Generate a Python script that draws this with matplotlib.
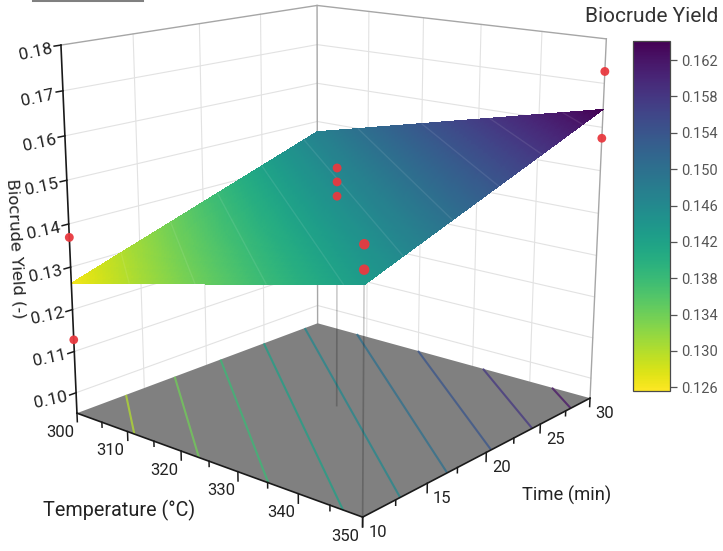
#!/usr/bin/env python3
"""Biocrude yield response surface over temperature and time."""

import matplotlib

matplotlib.use("Agg")
import matplotlib.pyplot as plt
import numpy as np
from matplotlib.cm import ScalarMappable
from matplotlib.colors import Normalize
from matplotlib.lines import Line2D
from mpl_toolkits.mplot3d.art3d import Poly3DCollection

temp_range = [300, 350]
time_range = [10, 30]
yield_range = [0.095, 0.18]
colour_range = [0.1256, 0.1641]

temp_major = [300, 310, 320, 330, 340, 350]
temp_minor = [305, 315, 325, 335, 345]
time_major = [10, 15, 20, 25, 30]
time_minor = [12.5, 17.5, 22.5, 27.5]
yield_ticks = [0.10, 0.11, 0.12, 0.13, 0.14, 0.15, 0.16, 0.17, 0.18]

# surface corners, rows are temperature, columns are time
surface_temp = [300, 350]
surface_time = [10, 30]
surface_yield = [[0.1262, 0.1473], [0.1430, 0.1641]]

contour_levels = [0.130, 0.134, 0.138, 0.142, 0.146, 0.150, 0.154, 0.158, 0.162]
colorbar_ticks = [0.126, 0.130, 0.134, 0.138, 0.142, 0.146, 0.150, 0.154, 0.158, 0.162]

point_temp = [300, 300, 350, 350, 325, 325, 325, 350, 350]
point_time = [10, 10, 30, 30, 20, 20, 20, 10, 10]
point_yield = [0.1369, 0.1128, 0.1727, 0.1575, 0.1517, 0.1485, 0.1452, 0.1510, 0.1460]
stem_temp = [325, 350]
stem_time = [20, 10]
stem_top = [0.1445, 0.1430]

FONT = "Roboto"
plt.rcParams["font.family"] = FONT

WIDTH, HEIGHT = 723, 551
SCALE = 3414.4
SIDE = SCALE * 0.185
LEFT = 337.0 - SCALE * 0.095
BOTTOM = HEIGHT - 229.3 - SCALE * 0.095


def main():
    fig = plt.figure(figsize=(WIDTH / 100, HEIGHT / 100), dpi=100, facecolor="white")
    ax = fig.add_axes(
        [LEFT / WIDTH, BOTTOM / HEIGHT, SIDE / WIDTH, SIDE / HEIGHT],
        projection="3d",
        computed_zorder=False,
    )
    ax.set_xlim(*temp_range)
    ax.set_ylim(*time_range)
    ax.set_zlim(*yield_range)
    ax.set_proj_type("persp", focal_length=0.47967)
    ax.view_init(elev=15.394, azim=-49.853, roll=-0.089)
    ax.set_box_aspect((0.99686, 0.99399, 1))
    ax.set_axis_off()
    ax.patch.set_visible(False)
    M = ax.get_proj()

    def project(x, y, z):
        h = M @ np.array([x, y, z, 1.0])
        return h[0] / h[3], h[1] / h[3], h[3]

    t0, t1 = temp_range
    m0, m1 = time_range
    z0, z1 = yield_range

    # walls
    grid = dict(color="#e2e2e2", lw=0.8, zorder=0.5)
    for z in yield_ticks[:-1]:
        ax.plot([t0, t0], [m0, m1], [z, z], **grid)
        ax.plot([t0, t1], [m1, m1], [z, z], **grid)
    for m in time_major[1:-1]:
        ax.plot([t0, t0], [m, m], [z0, z1], **grid)
    for t in temp_major[1:-1]:
        ax.plot([t, t], [m1, m1], [z0, z1], **grid)

    edge = dict(color="#a6a6a6", lw=1.0, zorder=0.6)
    ax.plot([t0, t0, t1], [m0, m1, m1], [z1, z1, z1], **edge)
    ax.plot([t0, t0], [m1, m1], [z0, z1], **edge)
    ax.plot([t1, t1], [m1, m1], [z0, z1], **edge)

    floor = Poly3DCollection(
        [[(t0, m0, z0), (t1, m0, z0), (t1, m1, z0), (t0, m1, z0)]],
        facecolors="#808080",
        edgecolors="none",
        zorder=1,
    )
    ax.add_collection3d(floor, autolim=False)

    # surface, subdivided only so the colours run smoothly
    u = np.linspace(0, 1, 160)
    T, M_grid = np.meshgrid(
        surface_temp[0] + u * (surface_temp[1] - surface_temp[0]),
        surface_time[0] + u * (surface_time[1] - surface_time[0]),
        indexing="ij",
    )
    zc = np.array(surface_yield)
    a, b = np.meshgrid(u, u, indexing="ij")
    Z = (
        zc[0, 0] * (1 - a) * (1 - b)
        + zc[0, 1] * (1 - a) * b
        + zc[1, 0] * a * (1 - b)
        + zc[1, 1] * a * b
    )
    norm = Normalize(*colour_range)
    cmap = plt.get_cmap("viridis_r")

    ax.contour(
        T, M_grid, Z, levels=contour_levels, zdir="z", offset=z0,
        cmap=cmap, norm=norm, linewidths=1.5, alpha=0.75, zorder=2,
    )
    for t, m, top in zip(stem_temp, stem_time, stem_top):
        ax.plot([t, t], [m, m], [z0, top], color="#000000", alpha=0.2, lw=1.2, zorder=2.5)
    ax.plot_surface(
        T, M_grid, Z, cmap=cmap, norm=norm, rstride=1, cstride=1,
        linewidth=0, antialiased=False, shade=False, zorder=3,
    )
    ax.contour(
        T, M_grid, Z, levels=contour_levels, colors="white",
        alpha=0.09, linewidths=1.0, zorder=3.5,
    )

    # measured points, dot size follows depth
    w = np.array([project(*p)[2] for p in zip(point_temp, point_time, point_yield)])
    ax.scatter(
        point_temp, point_time, point_yield, s=(7.6 * w.mean() / w) ** 2 * 0.75,
        c="#e8393f", edgecolors="none", depthshade=False, zorder=5, alpha=0.95,
    )

    # axis lines and ticks
    axis = dict(color="#1a1a1a", lw=1.2, zorder=4)
    ax.plot([t0, t0], [m0, m0], [z0, z1], **axis)
    ax.plot([t0, t1], [m0, m0], [z0, z0], **axis)
    ax.plot([t1, t1], [m0, m1], [z0, z0], **axis)

    tick = dict(color="#1a1a1a", lw=1.1, zorder=4)
    for t in temp_major:
        ax.plot([t, t], [m0, m0], [z0, z0 - 0.0021], **tick)
    for t in temp_minor:
        ax.plot([t, t], [m0, m0], [z0, z0 - 0.0012], **tick)
    for m in time_major:
        ax.plot([t1, t1], [m, m], [z0, z0 - 0.0021], **tick)
    for m in time_minor:
        ax.plot([t1, t1], [m, m], [z0, z0 - 0.0012], **tick)
    for z in yield_ticks:
        ax.plot([t0, t0], [m0, m0 - 0.45], [z, z], **tick)

    def label(text, where, dx, dy, **kwargs):
        x, y, _ = project(*where)
        ax.annotate(
            text, xy=(x, y), xytext=(dx, dy), textcoords="offset pixels",
            ha="center", va="center", annotation_clip=False, color="#222222", **kwargs,
        )

    for z in yield_ticks:
        label(f"{z:.2f}", (t0, m0, z), -25, -7, fontsize=12.5, rotation=12)
    for t in temp_major:
        label(f"{t}", (t, m0, z0), -17, -19, fontsize=12)
    for m in time_major:
        label(f"{m}", (t1, m, z0), 15, -15, fontsize=12)

    fig.text(119 / WIDTH, 1 - 510 / HEIGHT, "Temperature (°C)", ha="center", va="center",
             fontsize=14.2, color="#222222")
    fig.text(567 / WIDTH, 1 - 495 / HEIGHT, "Time (min)", ha="center", va="center",
             fontsize=13.2, color="#222222")
    fig.text(16 / WIDTH, 1 - 249 / HEIGHT, "Biocrude Yield (-)", ha="center", va="center",
             fontsize=11.8, rotation=-87, color="#222222", family="DejaVu Sans")

    # colour bar
    cax = fig.add_axes([633 / WIDTH, 1 - 391 / HEIGHT, 37 / WIDTH, 350 / HEIGHT], zorder=10)
    cbar = fig.colorbar(ScalarMappable(norm=norm, cmap=cmap), cax=cax, ticks=colorbar_ticks)
    cbar.ax.set_yticklabels([f"{v:.3f}" for v in colorbar_ticks])
    cbar.ax.tick_params(length=5, width=0.9, color="#555555", labelcolor="#555555",
                        labelsize=10.5, pad=3)
    cbar.outline.set_edgecolor("#4a4a4a")
    cbar.outline.set_linewidth(0.9)
    fig.text(718 / WIDTH, 1 - 17 / HEIGHT, "Biocrude Yield", ha="right", va="center",
             fontsize=15, color="#333333", zorder=10)

    # stub of a rule cut off by the top of the image
    fig.add_artist(Line2D([33 / WIDTH, 142 / WIDTH], [1, 1], color="#808080", lw=2.2))

    fig.savefig("out.png", dpi=100)


if __name__ == "__main__":
    main()
